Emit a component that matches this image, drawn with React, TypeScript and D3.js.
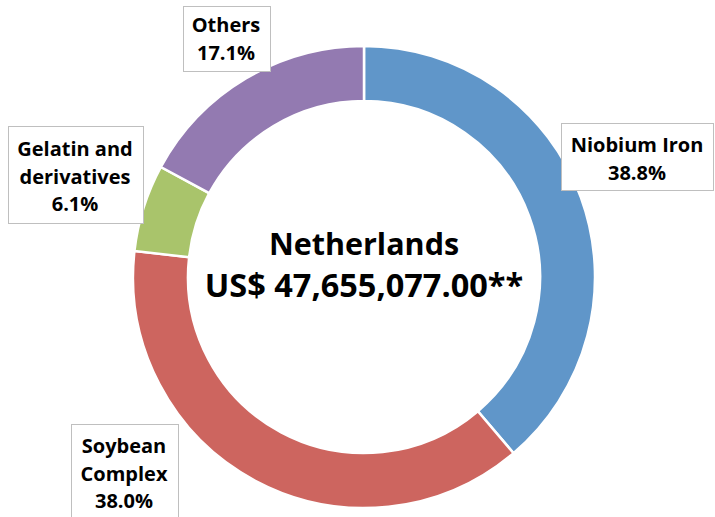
import React, { useEffect, useRef } from "react";
import * as d3 from "d3";

const categories = ["Niobium Iron", "Soybean Complex", "Gelatin and derivatives", "Others"];
const shares = [38.8, 38.0, 6.1, 17.1];
const labelLines = [
  ["Niobium Iron", "38.8%"],
  ["Soybean", "Complex", "38.0%"],
  ["Gelatin and", "derivatives", "6.1%"],
  ["Others", "17.1%"],
];
const colors = ["#6096C9", "#CD655F", "#A9C46B", "#937AB1"];
const centerTitle = "Netherlands";
const centerValue = "US$ 47,655,077.00**";

// label box layout: [left, top, width, height, textCenterX, firstBaseline]
const boxes = [
  [561, 123, 152, 67, 637, 152],
  [71, 424, 107, 100, 124, 453],
  [8, 126, 135, 97, 75, 156],
  [183, 6, 87, 65, 226, 32],
];

export default function App() {
  const ref = useRef<SVGSVGElement>(null);
  useEffect(() => {
    const svg = d3.select(ref.current);
    svg.selectAll("*").remove();
    const W = 715, H = 517;
    const cx = 364, cy = 277, R = 231, r = 176;
    svg.append("rect").attr("width", W).attr("height", H).attr("fill", "#fff");
    const pie = d3.pie<number>().sort(null).value((d) => d);
    const arc = d3.arc<d3.PieArcDatum<number>>().innerRadius(r).outerRadius(R);
    const g = svg.append("g").attr("transform", `translate(${cx},${cy})`);
    g.selectAll("path")
      .data(pie(shares))
      .join("path")
      .attr("d", arc)
      .attr("fill", (_, i) => colors[i])
      .attr("stroke", "#fff")
      .attr("stroke-width", 2.5);

    const font = "'Open Sans', 'DejaVu Sans', sans-serif";
    g.append("text")
      .attr("x", 0).attr("y", 255 - cy)
      .attr("text-anchor", "middle")
      .attr("font-family", font).attr("font-weight", 700).attr("font-size", 30.5)
      .attr("fill", "#000")
      .text(centerTitle);
    g.append("text")
      .attr("x", 0).attr("y", 297 - cy)
      .attr("text-anchor", "middle")
      .attr("font-family", font).attr("font-weight", 700).attr("font-size", 32.5)
      .attr("fill", "#000")
      .text(centerValue);

    categories.forEach((c, i) => {
      const [bx, by, bw, bh, tx, ty] = boxes[i];
      const lg = svg.append("g").attr("class", "label").attr("data-cat", c);
      lg.append("rect")
        .attr("x", bx + 0.5).attr("y", by + 0.5)
        .attr("width", bw).attr("height", bh)
        .attr("fill", "#fff").attr("stroke", "#BFBFBF").attr("stroke-width", 1);
      labelLines[i].forEach((t, j) => {
        lg.append("text")
          .attr("x", tx).attr("y", ty + j * 27.5)
          .attr("text-anchor", "middle")
          .attr("font-family", font).attr("font-weight", 700).attr("font-size", 20)
          .attr("fill", "#000")
          .text(t);
      });
    });
  }, []);
  return (
    <svg
      ref={ref}
      width={715}
      height={517}
      style={{ position: "absolute", left: 0, top: 0, display: "block" }}
    />
  );
}
